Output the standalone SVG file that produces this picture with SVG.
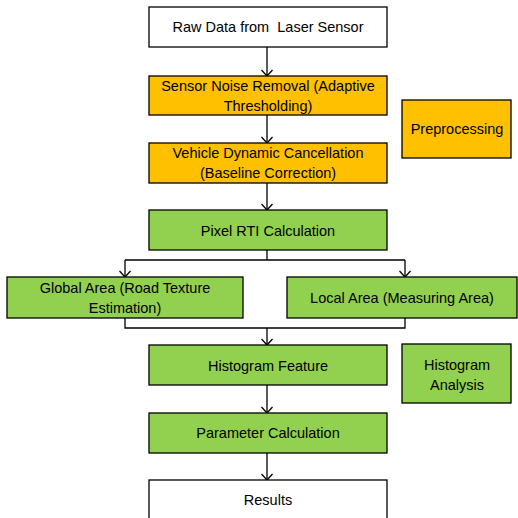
<svg xmlns="http://www.w3.org/2000/svg" width="518" height="518" viewBox="0 0 518 518">
<style>
.b{stroke:#000;stroke-width:1.3}
.w{fill:#fff}
.o{fill:#FFC000}
.g{fill:#92D050}
text{font-family:"Liberation Sans",Arial,sans-serif;font-size:14.5px;fill:#000;text-anchor:middle;dominant-baseline:central;white-space:pre}
.c{fill:none;stroke:#000;stroke-width:1.3}
</style>
<defs>
<marker id="a" viewBox="0 0 10 12" refX="9" refY="6" markerWidth="10" markerHeight="12" markerUnits="userSpaceOnUse" orient="auto">
<polyline points="3,0.5 9,6 3,11.5" fill="none" stroke="#000" stroke-width="1.3"/>
</marker>
</defs>
<rect width="518" height="518" fill="#fff"/>
<g id="connectors">
<path class="c" d="M267 47V76" marker-end="url(#a)"/>
<path class="c" d="M267 115V143" marker-end="url(#a)"/>
<path class="c" d="M267 183V210" marker-end="url(#a)"/>
<path class="c" d="M267 250V260"/>
<path class="c" d="M125 260H405"/>
<path class="c" d="M125 260V277" marker-end="url(#a)"/>
<path class="c" d="M405 260V277" marker-end="url(#a)"/>
<path class="c" d="M125 318V328H405V318"/>
<path class="c" d="M267 328V345" marker-end="url(#a)"/>
<path class="c" d="M267 385V413" marker-end="url(#a)"/>
<path class="c" d="M267 453V480" marker-end="url(#a)"/>
</g>
<g id="raw"><rect class="b w" x="149" y="7" width="238" height="40"/><text x="268" y="27" xml:space="preserve">Raw Data from  Laser Sensor</text></g>
<g id="noise"><rect class="b o" x="149" y="76" width="238" height="39"/><text x="268" y="86">Sensor Noise Removal (Adaptive</text><text x="268" y="106">Thresholding)</text></g>
<g id="vehicle"><rect class="b o" x="149" y="143" width="238" height="40"/><text x="268" y="153">Vehicle Dynamic Cancellation</text><text x="268" y="173">(Baseline Correction)</text></g>
<g id="pixel"><rect class="b g" x="149" y="210" width="238" height="40"/><text x="268" y="231">Pixel RTI Calculation</text></g>
<g id="global"><rect class="b g" x="7" y="277" width="236" height="41"/><text x="125" y="288">Global Area (Road Texture</text><text x="125" y="308">Estimation)</text></g>
<g id="local"><rect class="b g" x="287" y="277" width="230" height="41"/><text x="402" y="298">Local Area (Measuring Area)</text></g>
<g id="histfeat"><rect class="b g" x="149" y="345" width="238" height="40"/><text x="268" y="366">Histogram Feature</text></g>
<g id="param"><rect class="b g" x="149" y="413" width="238" height="40"/><text x="268" y="433">Parameter Calculation</text></g>
<g id="results"><rect class="b w" x="149" y="480" width="238" height="45"/><text x="268" y="500">Results</text></g>
<g id="preproc"><rect class="b o" x="402" y="100" width="109" height="58"/><text x="457" y="129">Preprocessing</text></g>
<g id="histanalysis"><rect class="b g" x="402" y="344" width="109" height="59"/><text x="457" y="365">Histogram</text><text x="457" y="385">Analysis</text></g>
</svg>
